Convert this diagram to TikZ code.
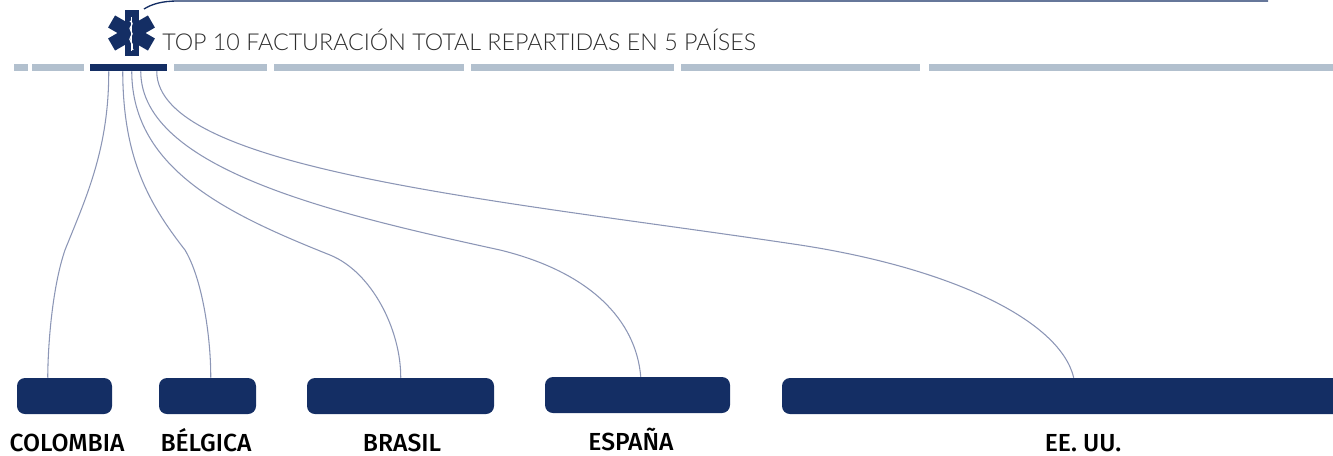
\documentclass[tikz,border=0pt]{standalone}
\usepackage{fontspec}
\setmainfont{Lato}
\newfontfamily\titlefont{Lato Light}
\newfontfamily\labelfont{Fira Sans Medium}
\definecolor{navy}{RGB}{20, 46, 100}
\definecolor{segment}{RGB}{178, 192, 206}
\definecolor{thread}{RGB}{140, 150, 182}
\definecolor{textdark}{RGB}{45, 45, 45}
\usepackage{tikz}
\usetikzlibrary{positioning, calc}

\tikzset{
  seg/.style={rectangle, fill=segment, inner sep=0pt, minimum height=5.25pt},
  country/.style={rectangle, rounded corners=6pt, fill=navy, inner sep=0pt, minimum height=27pt},
  countrylabel/.style={anchor=base, inner sep=0pt, text=black, font=\labelfont\fontsize{18.5}{18.5}\selectfont},
  thread/.style={draw=thread, line width=0.8pt},
  arm/.style={rectangle, fill=navy, inner sep=0pt, minimum width=10.5pt, minimum height=34.5pt}
}

\begin{document}
\begin{tikzpicture}[x=0.75pt, y=-0.75pt]
        \clip (0,0) rectangle (1333,455);
        % bar of segments
        \foreach \a/\b [count=\i] in {14/28, 32/84, 174/267, 274/464, 471/674, 681/920, 929/1345} {
          \node[seg, minimum width={(\b-\a)*0.75pt}] (seg\i) at ({(\a+\b)/2},67.5) {};
        }
        \node[seg, fill=navy, minimum width=57.75pt] (segmain) at (128.5,67.5) {};
        % star
        \node[arm] (armone) at (131.5,33) {};
        \node[arm, rotate=60] (armtwo) at (131.5,33) {};
        \node[arm, rotate=-60] (armthree) at (131.5,33) {};
        \draw[white, line width=0.4pt] (131.5,17) -- (131.5,51);
        \draw[white, line width=0.9pt] (130,21) .. controls (136,25) and (127,27) .. (131,31) .. controls (135,35) and (127,38) .. (131,42) .. controls (134,45) and (131,48) .. (133,50);
        \node[anchor=west, inner sep=0pt, text=textdark, font=\titlefont\fontsize{17.45}{17.45}\selectfont] (title) at (162,40) {TOP 10 FACTURACIÓN TOTAL REPARTIDAS EN 5 PAÍSES};
        % top line
        \coordinate (topleft) at (144,9);
        \coordinate (topright) at (1268,1);
        \draw[navy, line width=1pt] (topleft) .. controls (152,4) and (162,1) .. (178,1) -- (topright);
        % countries
        \node[country, minimum width=71.25pt] (colombia) at (64.5,396) {};
        \node[country, minimum width=72.75pt] (belgica) at (207.5,396) {};
        \node[country, minimum width=140.25pt] (brasil) at (400.5,396) {};
        \node[country, minimum width=138.75pt] (espana) at (637.5,395) {};
        \node[country, minimum width=450pt] (eeuu) at (1082,396) {};
        \node[countrylabel] (lcolombia) at (67,451) {COLOMBIA};
        \node[countrylabel] (lbelgica) at (206,451) {BÉLGICA};
        \node[countrylabel] (lbrasil) at (402,451) {BRASIL};
        \node[countrylabel] (lespana) at (631,450) {ESPAÑA};
        \node[countrylabel] (leeuu) at (1083,451) {EE. UU.};
        % threads
        \draw[thread] ($(segmain.south west)+(19,0)$) .. controls (109,150) and (85,200) .. (65,250) .. controls (53,285) and (48,340) .. ($(colombia.north west)+(31,0)$);
        \draw[thread] ($(segmain.south west)+(33,0)$) .. controls (123,160) and (150,205) .. (185,250) .. controls (203,280) and (211,340) .. ($(belgica.north west)+(52,0)$);
        \draw[thread] ($(segmain.south west)+(42,0)$) .. controls (132,170) and (230,215) .. (330,255) .. controls (372,272) and (401,330) .. ($(brasil.north west)+(94,0)$);
        \draw[thread] ($(segmain.south west)+(51,0)$) .. controls (141,170) and (340,215) .. (500,250) .. controls (590,272) and (636,320) .. ($(espana.north west)+(96,0)$);
        \draw[thread] ($(segmain.south west)+(67,0)$) .. controls (157,170) and (500,200) .. (800,245) .. controls (950,268) and (1060,320) .. ($(eeuu.north west)+(292,0)$);
      \end{tikzpicture}
\end{document}
